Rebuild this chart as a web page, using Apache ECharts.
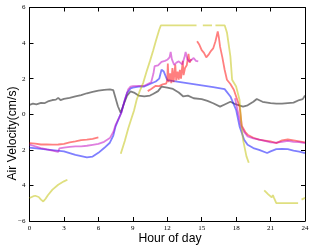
<!DOCTYPE html>
<html><head><meta charset="utf-8">
<script src="https://cdn.jsdelivr.net/npm/echarts@6/dist/echarts.min.js"></script>
<style>html,body{margin:0;padding:0;background:#fff}#c{width:311px;height:249px}</style>
</head><body><div id="c"></div>
<script>
var xTicks = [0,3,6,9,12,15,18,21,24];
var yTickLabels = {"6":"6","4":"4","2":"2","0":"0","-2":"2","-4":"4","-6":"\u22126"};
var xTitle = 'Hour of day';
var yTitle = 'Air Velocity(cm/s)';
var gray = [[0,0.53],[0.3,0.6],[0.6,0.55],[1,0.64],[1.3,0.62],[1.6,0.72],[2,0.8],[2.3,0.82],[2.5,0.92],[2.7,0.8],[3,0.86],[3.5,0.92],[4,1.0],[4.5,1.08],[5,1.18],[5.5,1.26],[6,1.33],[6.5,1.37],[7,1.4],[7.3,1.35],[7.5,0.9],[7.7,0.45],[7.95,0.08],[8.2,0.55],[8.5,1.05],[8.8,1.28],[9.1,1.22],[9.5,1.05],[10,1.0],[10.5,1.05],[10.8,1.15],[11.2,1.3],[11.5,1.55],[12,1.5],[12.5,1.42],[13,1.22],[13.4,1.0],[13.8,1.05],[14.3,0.9],[15,0.85],[15.5,0.75],[16,0.62],[16.6,0.43],[17,0.55],[17.5,0.7],[18,0.55],[18.6,0.43],[19,0.5],[19.5,0.7],[19.8,0.86],[20.3,0.7],[21,0.62],[21.5,0.6],[22,0.6],[22.5,0.63],[23,0.65],[23.5,0.8],[23.8,0.85],[24,1.05]];
var blue = [[0,-1.88],[1,-1.95],[2,-2.02],[3,-2.09],[4,-2.28],[5,-2.43],[5.5,-2.38],[6,-2.17],[6.5,-1.9],[7,-1.6],[7.3,-1.2],[7.5,-0.68],[7.8,-0.2],[8,0.1],[8.3,0.8],[8.5,1.2],[8.8,1.45],[9,1.5],[9.5,1.55],[10,1.56],[10.5,1.7],[11,1.84],[11.3,2.0],[11.5,2.5],[11.7,2.4],[12,1.92],[13,1.82],[14,1.72],[15,1.62],[16,1.52],[17,1.41],[17.5,1.0],[18,0.25],[18.3,-0.68],[18.7,-1.43],[19,-1.71],[19.5,-1.9],[20,-2.0],[20.7,-2.18],[21,-2.09],[21.5,-1.96],[22,-1.95],[22.5,-1.96],[23,-2.05],[23.5,-2.1],[24,-2.18]];
var red = [[0,-1.62],[0.5,-1.65],[1,-1.7],[1.5,-1.7],[2,-1.71],[2.5,-1.7],[3,-1.66],[3.5,-1.58],[4,-1.53],[4.5,-1.45],[5,-1.43],[5.5,-1.38],[6,-1.3],[6.05,'-'],[10.3,1.3],[10.6,1.42],[11,1.6],[11.3,1.58],[11.6,1.68],[11.9,1.72],[12.0,1.9],[12.05,2.85],[12.12,1.8],[12.25,2.3],[12.35,1.75],[12.45,2.6],[12.55,1.8],[12.7,2.8],[12.78,1.9],[12.9,2.4],[13.0,1.95],[13.1,2.5],[13.2,2.0],[13.35,3.0],[13.42,2.2],[13.55,2.6],[13.7,2.75],[13.85,3.4],[13.95,2.9],[14.1,3.1],[14.2,'-'],[14.6,4.1],[14.8,3.9],[15.0,3.6],[15.2,3.45],[15.4,3.2],[15.6,3.35],[15.8,3.55],[16.0,3.7],[16.2,4.1],[16.4,4.65],[16.5,4.3],[16.6,3.8],[16.8,3.2],[17.0,2.5],[17.2,1.94],[17.5,1.7],[17.8,1.38],[18.0,1.0],[18.3,0.43],[18.5,-0.65],[18.8,-1.0],[19,-1.15],[19.5,-1.32],[20,-1.43],[20.5,-1.48],[21,-1.53],[21.5,-1.62],[22,-1.47],[22.5,-1.42],[23,-1.47],[23.5,-1.52],[24,-1.58]];
var magenta = [[0,-1.71],[0.5,-1.8],[1,-1.9],[1.5,-1.98],[2,-2.05],[2.5,-2.12],[2.6,-1.92],[3,-1.87],[3.5,-1.83],[4,-1.8],[4.5,-1.8],[5,-1.77],[5.5,-1.72],[6,-1.67],[6.5,-1.55],[7,-1.34],[7.3,-1.0],[7.5,-0.6],[7.8,-0.2],[8,0.08],[8.3,0.8],[8.6,1.4],[8.8,1.55],[9,1.58],[9.5,1.6],[10,1.6],[10.3,1.7],[10.6,1.8],[10.8,2.3],[10.9,2.7],[11.2,2.75],[11.5,2.95],[11.8,3.0],[12,3.06],[12.2,3.2],[12.3,3.5],[12.4,3.1],[12.6,2.78],[12.8,2.9],[13,2.97],[13.3,2.8],[13.5,3.2],[13.6,3.5],[13.75,3.1],[13.9,2.97],[14.1,3.05],[14.3,3.16],[14.5,3.0],[14.7,2.97],[14.8,'-'],[17.9,0.9],[18.1,0.3],[18.4,-0.6],[18.7,-1.0],[19,-1.25],[19.5,-1.35],[20,-1.42],[20.5,-1.5],[21,-1.58],[21.5,-1.6],[22,-1.55],[22.5,-1.5],[23,-1.55],[23.5,-1.57],[24,-1.62]];
var yellow = [[0,-4.71],[0.3,-4.62],[0.5,-4.58],[0.8,-4.65],[1,-4.8],[1.2,-4.9],[1.4,-4.75],[1.6,-4.55],[2,-4.24],[2.5,-3.96],[3,-3.77],[3.3,-3.68],[3.4,'-'],[7.95,-2.22],[8.3,-1.5],[8.6,-0.8],[8.85,-0.3],[9.1,0.2],[9.33,0.8],[9.6,1.3],[9.9,1.75],[10.2,2.4],[10.5,3.0],[10.78,3.6],[11.0,4.1],[11.3,4.75],[11.45,5.0],[14.55,5.0],[14.7,'-'],[15.1,5.0],[15.9,5.0],[16.0,'-'],[16.2,5.0],[17.0,5.0],[17.2,4.6],[17.5,3.25],[17.65,1.94],[18,1.56],[18.3,0.8],[18.45,-0.5],[18.6,-1.43],[18.9,-2.37],[19.1,-2.73],[19.2,'-'],[20.45,-4.28],[20.8,-4.5],[21.1,-4.67],[21.2,-4.55],[21.3,-4.7],[21.5,-4.99],[23.4,-5.0],[23.5,'-'],[23.7,-4.8],[24,-4.7]];

var chart = echarts.init(document.getElementById('c'), null, {renderer:'canvas'});
function ser(d, c){return {type:'line', data:d, showSymbol:false, symbol:'none', connectNulls:false, lineStyle:{color:c, width:1.8, opacity:0.5}, z:2};}
var tickFont = {fontFamily:'Liberation Serif', fontSize:7, color:'#000'};
var xBase = {type:'value', min:0, max:24, interval:3, splitLine:{show:false},
  axisLine:{show:true, onZero:false, lineStyle:{color:'#000', width:1}}, axisTick:{show:true, inside:true, length:4, lineStyle:{color:'#000'}}};
var yBase = {type:'value', min:-6, max:6, interval:2, splitLine:{show:false},
  axisLine:{show:true, onZero:false, lineStyle:{color:'#000', width:1}}, axisTick:{show:true, inside:true, length:4, lineStyle:{color:'#000'}}};
var titleFont = '12.2px "Liberation Sans"';
chart.setOption({
  animation:false,
  grid:{left:29.5, right:6, top:7.5, bottom:28, containLabel:false, outerBoundsMode:'none'},
  xAxis:[
    Object.assign({}, xBase, {position:'bottom',
      axisLabel:Object.assign({margin:4, formatter:function(v){return xTicks.indexOf(v)>=0?String(v):'';}}, tickFont)}),
    Object.assign({}, xBase, {position:'top', axisLabel:{show:false}})
  ],
  yAxis:[
    Object.assign({}, yBase, {position:'left',
      axisLabel:Object.assign({margin:4, formatter:function(v){return yTickLabels[String(v)];}}, tickFont)}),
    Object.assign({}, yBase, {position:'right', axisLabel:{show:false}})
  ],
  graphic:[
    {type:'text', x:170, y:238.5, style:{text:xTitle, font:titleFont, fill:'#000', textAlign:'center', textVerticalAlign:'middle'}},
    {type:'text', x:13, y:133.5, rotation:Math.PI/2, style:{text:yTitle, font:titleFont, fill:'#000', textAlign:'center', textVerticalAlign:'middle'}}
  ],
  series:[ser(gray,'#000000'), ser(blue,'#0000ff'), ser(red,'#ff0000'), ser(magenta,'#bf00bf'), ser(yellow,'#bfbf00')]
});
</script></body></html>
